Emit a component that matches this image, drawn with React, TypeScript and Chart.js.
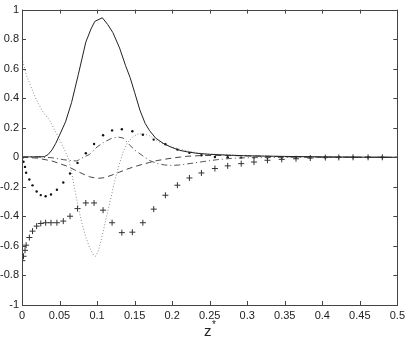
import React, { useEffect, useRef } from "react";
import { Chart, registerables } from "chart.js";

Chart.register(...registerables);

// Axis ticks
const X_TICKS = [0, 0.05, 0.1, 0.15, 0.2, 0.25, 0.3, 0.35, 0.4, 0.45, 0.5];
const X_TICK_LABELS = ["0", "0.05", "0.1", "0.15", "0.2", "0.25", "0.3", "0.35", "0.4", "0.45", "0.5"];
const Y_TICKS = [-1, -0.8, -0.6, -0.4, -0.2, 0, 0.2, 0.4, 0.6, 0.8, 1];
const Y_TICK_LABELS = ["-1", "-0.8", "-0.6", "-0.4", "-0.2", "0", "0.2", "0.4", "0.6", "0.8", "1"];
const X_TITLE_BASE = "z";
const X_TITLE_SUP = "*";

// Solid line
const solidX = [0, 0.01, 0.02, 0.03, 0.035, 0.04, 0.045, 0.05, 0.058, 0.066, 0.075, 0.085, 0.092, 0.097, 0.107, 0.114, 0.121, 0.13, 0.138, 0.144, 0.15, 0.157, 0.164, 0.17, 0.178, 0.188, 0.198, 0.21, 0.22, 0.233, 0.25, 0.277, 0.3, 0.35, 0.4, 0.45, 0.5];
const solidY = [0.003, 0.003, 0.003, 0.004, 0.02, 0.05, 0.095, 0.15, 0.24, 0.37, 0.56, 0.78, 0.87, 0.92, 0.945, 0.9, 0.845, 0.74, 0.62, 0.54, 0.44, 0.32, 0.23, 0.18, 0.13, 0.095, 0.07, 0.047, 0.037, 0.027, 0.02, 0.014, 0.01, 0.006, 0.003, 0.001, 0];

// Dotted line
const dottedX = [0, 0.006, 0.013, 0.0195, 0.028, 0.037, 0.044, 0.0505, 0.057, 0.062, 0.066, 0.07, 0.075, 0.08, 0.085, 0.09, 0.095, 0.098, 0.102, 0.106, 0.11, 0.115, 0.12, 0.125, 0.13, 0.135, 0.14, 0.148, 0.155, 0.162, 0.17, 0.18, 0.19, 0.2, 0.21, 0.22, 0.24, 0.26, 0.28, 0.3, 0.35, 0.4, 0.45, 0.5];
const dottedY = [0.67, 0.555, 0.464, 0.385, 0.306, 0.25, 0.18, 0.115, 0.047, -0.01, -0.1, -0.21, -0.34, -0.45, -0.54, -0.61, -0.66, -0.67, -0.63, -0.55, -0.46, -0.35, -0.24, -0.13, -0.04, 0.04, 0.095, 0.14, 0.158, 0.16, 0.145, 0.11, 0.088, 0.07, 0.055, 0.043, 0.025, 0.02, 0.016, 0.01, 0.005, 0.002, 0.001, 0];

// Dashed line
const dashedX = [0, 0.02, 0.04, 0.06, 0.07, 0.08, 0.09, 0.1, 0.11, 0.12, 0.13, 0.14, 0.15, 0.16, 0.17, 0.18, 0.2, 0.22, 0.24, 0.26, 0.3, 0.35, 0.4, 0.5];
const dashedY = [0, -0.005, -0.025, -0.06, -0.085, -0.11, -0.132, -0.143, -0.138, -0.12, -0.1, -0.08, -0.063, -0.048, -0.035, -0.022, -0.005, 0.007, 0.012, 0.013, 0.01, 0.004, 0.001, 0];

// Dash-dot line
const dashdotX = [0, 0.02, 0.04, 0.055, 0.065, 0.073, 0.08, 0.09, 0.1, 0.11, 0.12, 0.128, 0.135, 0.143, 0.15, 0.16, 0.17, 0.18, 0.19, 0.2, 0.21, 0.22, 0.24, 0.26, 0.28, 0.3, 0.35, 0.5];
const dashdotY = [0, 0.003, -0.003, -0.016, -0.022, -0.025, -0.005, 0.02, 0.07, 0.105, 0.13, 0.137, 0.13, 0.085, 0.05, 0.013, -0.022, -0.042, -0.052, -0.055, -0.052, -0.045, -0.03, -0.016, -0.007, -0.003, 0, 0];

// Marker series share one grid
const markerX = [0.0005, 0.002, 0.004, 0.0055, 0.0098, 0.014, 0.0195, 0.025, 0.0315, 0.0386, 0.0465, 0.055, 0.064, 0.074, 0.085, 0.096, 0.108, 0.12, 0.133, 0.147, 0.161, 0.1755, 0.191, 0.207, 0.223, 0.239, 0.257, 0.274, 0.292, 0.309, 0.327, 0.346, 0.365, 0.384, 0.404, 0.422, 0.441, 0.461, 0.48];
const dotsY = [-0.005, -0.03, -0.065, -0.105, -0.15, -0.19, -0.232, -0.256, -0.264, -0.252, -0.22, -0.171, -0.11, -0.038, 0.027, 0.09, 0.149, 0.182, 0.19, 0.176, 0.153, 0.12, 0.088, 0.052, 0.03, 0.014, 0.002, 0, -0.002, -0.002, -0.002, -0.001, 0, 0, 0, 0, 0, 0, 0];
const plusY = [-0.7, -0.67, -0.63, -0.595, -0.543, -0.5, -0.466, -0.448, -0.443, -0.443, -0.443, -0.432, -0.399, -0.347, -0.309, -0.309, -0.358, -0.443, -0.51, -0.507, -0.443, -0.351, -0.257, -0.189, -0.14, -0.106, -0.076, -0.058, -0.043, -0.032, -0.02, -0.014, -0.01, -0.005, -0.002, -0.001, 0, 0, 0];

const pts = (xs: number[], ys: number[]) => xs.map((x, i) => ({ x, y: ys[i] }));

const FONT = "'Liberation Sans', Arial, Helvetica, sans-serif";
const AXIS_COLOR = "#444";
const TEXT_COLOR = "#222";

const boxPlugin = {
  id: "matlabBox",
  afterDatasetsDraw(chart: any) {
    const { ctx, chartArea, scales } = chart;
    const { left, right, top, bottom } = chartArea;
    const xs = scales.x;
    const ys = scales.y;
    ctx.save();
    ctx.strokeStyle = AXIS_COLOR;
    ctx.lineWidth = 1;
    ctx.strokeRect(Math.round(left) + 0.5, Math.round(top) + 0.5, Math.round(right - left), Math.round(bottom - top));
    const len = 4;
    ctx.beginPath();
    X_TICKS.forEach((v) => {
      const px = Math.round(xs.getPixelForValue(v)) + 0.5;
      ctx.moveTo(px, bottom);
      ctx.lineTo(px, bottom - len);
      ctx.moveTo(px, top);
      ctx.lineTo(px, top + len);
    });
    Y_TICKS.forEach((v) => {
      const py = Math.round(ys.getPixelForValue(v)) + 0.5;
      ctx.moveTo(left, py);
      ctx.lineTo(left + len, py);
      ctx.moveTo(right, py);
      ctx.lineTo(right - len, py);
    });
    ctx.stroke();

    // x-axis title: "z" with superscript "*"
    const cx = (left + right) / 2;
    ctx.fillStyle = TEXT_COLOR;
    ctx.textBaseline = "alphabetic";
    ctx.font = `15px ${FONT}`;
    const zw = ctx.measureText(X_TITLE_BASE).width;
    ctx.font = `10px ${FONT}`;
    const sw = ctx.measureText(X_TITLE_SUP).width;
    const startX = cx - (zw + sw) / 2;
    ctx.font = `15px ${FONT}`;
    ctx.textAlign = "left";
    ctx.fillText(X_TITLE_BASE, startX, bottom + 31);
    ctx.font = `10px ${FONT}`;
    ctx.fillText(X_TITLE_SUP, startX + zw + 0.5, bottom + 23);
    ctx.restore();
  },
};

export default function App() {
  const ref = useRef<HTMLCanvasElement | null>(null);

  useEffect(() => {
    if (!ref.current) return;
    const chart = new Chart(ref.current, {
      type: "line",
      data: {
        datasets: [
          {
            label: "solid",
            data: pts(solidX, solidY),
            borderColor: "#222",
            borderWidth: 1,
            pointRadius: 0,
            tension: 0,
          },
          {
            label: "dotted",
            data: pts(dottedX, dottedY),
            borderColor: "#8a8a8a",
            borderWidth: 1,
            borderDash: [1, 2],
            pointRadius: 0,
            tension: 0,
          },
          {
            label: "dashed",
            data: pts(dashedX, dashedY),
            borderColor: "#444",
            borderWidth: 1,
            borderDash: [6, 4],
            pointRadius: 0,
            tension: 0,
          },
          {
            label: "dashdot",
            data: pts(dashdotX, dashdotY),
            borderColor: "#555",
            borderWidth: 1,
            borderDash: [6, 3, 1, 3],
            pointRadius: 0,
            tension: 0,
          },
          {
            label: "dots",
            data: pts(markerX, dotsY),
            showLine: false,
            pointStyle: "circle",
            pointRadius: 1.2,
            backgroundColor: "#111",
            borderColor: "#111",
            borderWidth: 0,
          },
          {
            label: "plus",
            data: pts(markerX, plusY),
            showLine: false,
            pointStyle: "cross",
            pointRadius: 3,
            borderColor: "#333",
            backgroundColor: "#333",
            borderWidth: 1,
          },
        ],
      },
      options: {
        animation: false,
        responsive: false,
        events: [],
        layout: { padding: { top: 9, right: 11, left: 0, bottom: 0 } },
        plugins: {
          legend: { display: false },
          tooltip: { enabled: false },
        },
        scales: {
          x: {
            type: "linear",
            min: 0,
            max: 0.5,
            grid: { display: false, drawTicks: false },
            border: { display: false },
            afterBuildTicks: (scale: any) => {
              scale.ticks = X_TICKS.map((v) => ({ value: v }));
            },
            afterFit: (scale: any) => {
              scale.height = 33;
            },
            ticks: {
              padding: 4,
              maxRotation: 0,
              autoSkip: false,
              color: TEXT_COLOR,
              font: { family: FONT, size: 11 },
              callback: (v: any) => {
                const i = X_TICKS.findIndex((t) => Math.abs(t - Number(v)) < 1e-9);
                return i >= 0 ? X_TICK_LABELS[i] : "";
              },
            },
            title: { display: false },
          },
          y: {
            type: "linear",
            min: -1,
            max: 1,
            grid: { display: false, drawTicks: false },
            border: { display: false },
            afterBuildTicks: (scale: any) => {
              scale.ticks = Y_TICKS.map((v) => ({ value: v }));
            },
            afterFit: (scale: any) => {
              scale.width = 22;
            },
            ticks: {
              padding: 3,
              autoSkip: false,
              color: TEXT_COLOR,
              font: { family: FONT, size: 11 },
              callback: (v: any) => {
                const i = Y_TICKS.findIndex((t) => Math.abs(t - Number(v)) < 1e-9);
                return i >= 0 ? Y_TICK_LABELS[i] : "";
              },
            },
          },
        },
      },
      plugins: [boxPlugin],
    } as any);
    return () => chart.destroy();
  }, []);

  return (
    <div style={{ position: "absolute", left: 0, top: 0, width: 409, height: 338, background: "#fff" }}>
      <canvas ref={ref} width={409} height={338} style={{ display: "block" }} />
    </div>
  );
}
